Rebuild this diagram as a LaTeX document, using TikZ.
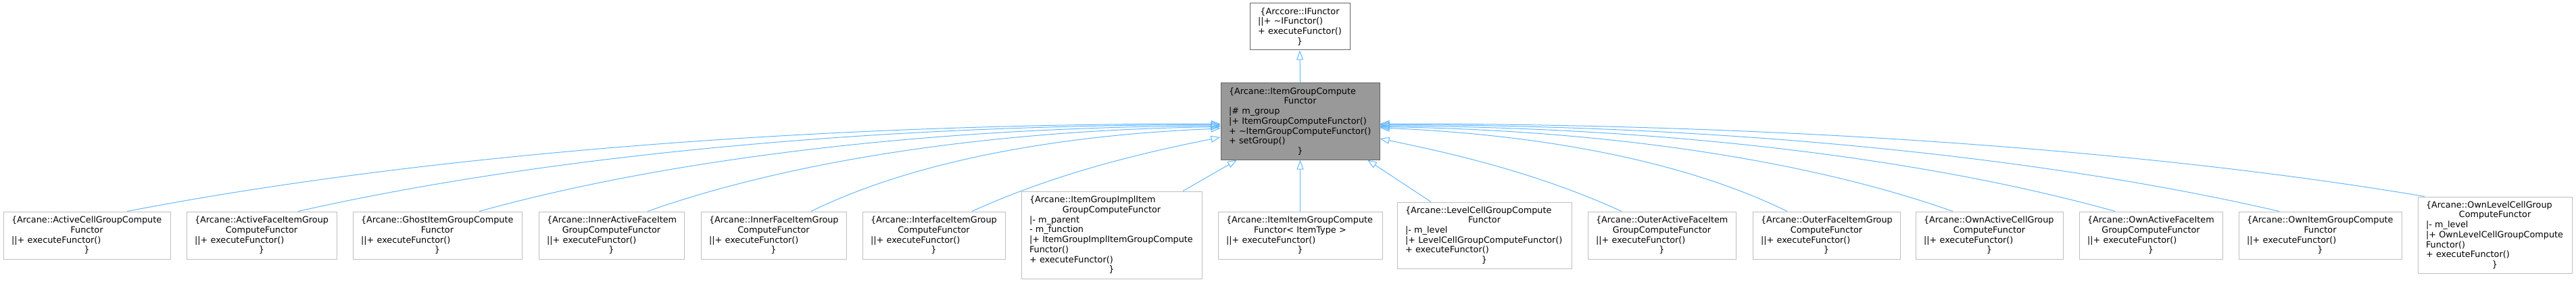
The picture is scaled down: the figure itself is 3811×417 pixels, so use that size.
\documentclass[tikz,border=0pt]{standalone}
\usepackage{fontspec}
\setmainfont{DejaVu Sans}
\usetikzlibrary{arrows.meta}
\setlength{\parindent}{0pt}
\definecolor{edgeblue}{HTML}{63B8FF}
\definecolor{boxgrey}{HTML}{BFBFBF}
\definecolor{darkgrey}{HTML}{666666}
\definecolor{mainfill}{HTML}{999999}
\newcommand\lft[1]{\makebox[\hsize][l]{#1}}
\newcommand\ctr[1]{\makebox[\hsize][c]{#1}}
\begin{document}
\begin{tikzpicture}[x=1pt, y=-1pt,
  cls/.style={draw=boxgrey, fill=white, line width=1pt, inner xsep=12pt, inner ysep=0pt,
    align=left, font=\fontsize{12.8}{14.7}\selectfont, anchor=center},
  inh/.style={draw=edgeblue, line width=1pt, -{Triangle[open, length=14pt, width=10pt]}}]
\useasboundingbox (0,0) rectangle (3811,417);

\node[cls, draw=darkgrey, text width=124pt, minimum height=69pt] (ifunctor) at (1923,39.5)
 {\ctr{\{Arccore::IFunctor}\\\lft{||+ \textasciitilde IFunctor()}\\\lft{+ executeFunctor()}\\\ctr{\}}};

\node[cls, draw=darkgrey, fill=mainfill, text width=211pt, minimum height=113pt] (main) at (1923.5,179.5)
 {\lft{\{Arcane::ItemGroupCompute}\\\ctr{Functor}\\\lft{|\# m\_group}\\\lft{|+ ItemGroupComputeFunctor()}\\\lft{+ \textasciitilde ItemGroupComputeFunctor()}\\\lft{+ setGroup()}\\\ctr{\}}};

\node[cls, text width=223pt, minimum height=70pt] (b1) at (128.5,348)
 {\lft{\{Arcane::ActiveCellGroupCompute}\\\ctr{Functor}\\\lft{||+ executeFunctor()}\\\ctr{\}}};
\node[cls, text width=198pt, minimum height=70pt] (b2) at (387,348)
 {\lft{\{Arcane::ActiveFaceItemGroup}\\\ctr{ComputeFunctor}\\\lft{||+ executeFunctor()}\\\ctr{\}}};
\node[cls, text width=226pt, minimum height=70pt] (b3) at (647,348)
 {\lft{\{Arcane::GhostItemGroupCompute}\\\ctr{Functor}\\\lft{||+ executeFunctor()}\\\ctr{\}}};
\node[cls, text width=191pt, minimum height=70pt] (b4) at (904.5,348)
 {\lft{\{Arcane::InnerActiveFaceItem}\\\ctr{GroupComputeFunctor}\\\lft{||+ executeFunctor()}\\\ctr{\}}};
\node[cls, text width=191pt, minimum height=70pt] (b5) at (1144.5,348)
 {\lft{\{Arcane::InnerFaceItemGroup}\\\ctr{ComputeFunctor}\\\lft{||+ executeFunctor()}\\\ctr{\}}};
\node[cls, text width=187pt, minimum height=70pt] (b6) at (1381.5,348)
 {\lft{\{Arcane::InterfaceItemGroup}\\\ctr{ComputeFunctor}\\\lft{||+ executeFunctor()}\\\ctr{\}}};
\node[cls, text width=243pt, minimum height=129pt] (b7) at (1644.5,347.5)
 {\lft{\{Arcane::ItemGroupImplItem}\\\ctr{GroupComputeFunctor}\\\lft{|- m\_parent}\\\lft{- m\_function}\\\lft{|+ ItemGroupImplItemGroupCompute}\\\lft{Functor()}\\\lft{+ executeFunctor()}\\\ctr{\}}};
\node[cls, text width=219pt, minimum height=70pt] (b8) at (1923.5,348)
 {\lft{\{Arcane::ItemItemGroupCompute}\\\ctr{Functor< ItemType >}\\\lft{||+ executeFunctor()}\\\ctr{\}}};
\node[cls, text width=234pt, minimum height=98pt] (b9) at (2196,348)
 {\lft{\{Arcane::LevelCellGroupCompute}\\\ctr{Functor}\\\lft{|- m\_level}\\\lft{|+ LevelCellGroupComputeFunctor()}\\\lft{+ executeFunctor()}\\\ctr{\}}};
\node[cls, text width=195pt, minimum height=70pt] (b10) at (2458.5,348)
 {\lft{\{Arcane::OuterActiveFaceItem}\\\ctr{GroupComputeFunctor}\\\lft{||+ executeFunctor()}\\\ctr{\}}};
\node[cls, text width=194pt, minimum height=70pt] (b11) at (2702,348)
 {\lft{\{Arcane::OuterFaceItemGroup}\\\ctr{ComputeFunctor}\\\lft{||+ executeFunctor()}\\\ctr{\}}};
\node[cls, text width=194pt, minimum height=70pt] (b12) at (2943,348)
 {\lft{\{Arcane::OwnActiveCellGroup}\\\ctr{ComputeFunctor}\\\lft{||+ executeFunctor()}\\\ctr{\}}};
\node[cls, text width=188pt, minimum height=70pt] (b13) at (3182,348)
 {\lft{\{Arcane::OwnActiveFaceItem}\\\ctr{GroupComputeFunctor}\\\lft{||+ executeFunctor()}\\\ctr{\}}};
\node[cls, text width=217pt, minimum height=70pt] (b14) at (3432.5,348)
 {\lft{\{Arcane::OwnItemGroupCompute}\\\ctr{Functor}\\\lft{||+ executeFunctor()}\\\ctr{\}}};
\node[cls, text width=204pt, minimum height=113pt] (b15) at (3691,347.5)
 {\lft{\{Arcane::OwnLevelCellGroup}\\\ctr{ComputeFunctor}\\\lft{|- m\_level}\\\lft{|+ OwnLevelCellGroupCompute}\\\lft{Functor()}\\\lft{+ executeFunctor()}\\\ctr{\}}};

\draw[inh] (main.north) -- (ifunctor.south);

\draw[inh] ([xshift=59.5pt]b1.north) .. controls +(404.5,-78) and +(-647,0) .. ([yshift=-3.5pt]main.west);
\draw[inh] ([xshift=54pt]b2.north) .. controls +(341,-77) and +(-546,0) .. ([yshift=-5pt]main.west);
\draw[inh] ([xshift=62pt]b3.north) .. controls +(274,-76) and +(-439,2) .. ([yshift=-6.5pt]main.west);
\draw[inh] ([xshift=53.5pt]b4.north) .. controls +(212,-75) and +(-339,5) .. ([yshift=-8pt]main.west);
\draw[inh] ([xshift=55.5pt]b5.north) .. controls +(151,-74) and +(-242,10) .. ([yshift=-10.5pt]main.west);
\draw[inh] ([xshift=56.5pt]b6.north) .. controls +(121,-55) and +(-121,24) .. ([yshift=-23.5pt]main.west);
\draw[inh] ([xshift=105.5pt]b7.north) -- ([xshift=-93.5pt]main.south);
\draw[inh] (b8.north) -- (main.south);
\draw[inh] ([xshift=-79pt]b9.north) -- ([xshift=99.5pt]main.south);
\draw[inh] ([xshift=-59.5pt]b10.north) .. controls +(-118,-54) and +(118,24) .. ([yshift=-25.5pt]main.east);
\draw[inh] ([xshift=-58pt]b11.north) .. controls +(-151,-74) and +(241,10) .. ([yshift=-9.5pt]main.east);
\draw[inh] ([xshift=-54pt]b12.north) .. controls +(-212,-75) and +(339,5) .. ([yshift=-8pt]main.east);
\draw[inh] ([xshift=-53pt]b13.north) .. controls +(-272,-76) and +(435,2) .. ([yshift=-6.5pt]main.east);
\draw[inh] ([xshift=-60.5pt]b14.north) .. controls +(-333,-77) and +(532,0) .. ([yshift=-5pt]main.east);
\draw[inh] ([xshift=-104pt]b15.north) .. controls +(-386,-65) and +(618,0) .. ([yshift=-3.5pt]main.east);
\end{tikzpicture}
\end{document}
